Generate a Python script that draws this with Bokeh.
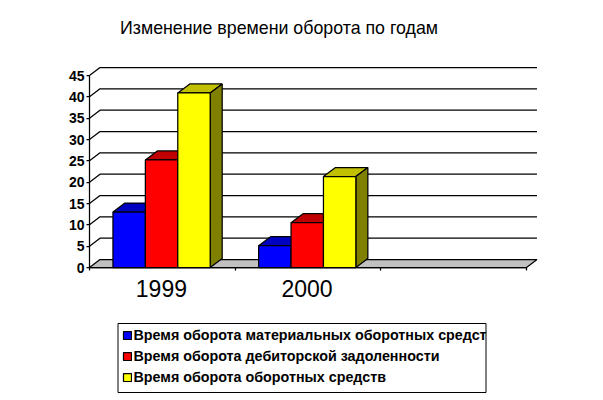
from bokeh.plotting import figure
from bokeh.embed import file_html
from bokeh.resources import INLINE
from bokeh.models import (Range1d, FixedTicker, Legend, LegendItem, Label, BoxAnnotation)

TITLE = "Изменение времени оборота по годам"
YEARS = ["1999", "2000"]
SERIES = ["Время оборота материальных оборотных средст",
          "Время оборота дебиторской задоленности",
          "Время оборота оборотных средств"]
MATERIAL = [13.0, 5.1]
RECEIVABLE = [25.2, 10.5]
TOTAL = [40.9, 21.3]
VALUES = [MATERIAL, RECEIVABLE, TOTAL]
FRONT = ["#0000ff", "#ff0000", "#ffff00"]
TOP = ["#0000c0", "#c00000", "#c0c000"]
SIDE = ["#000080", "#800000", "#808000"]
YTICKS = [0, 5, 10, 15, 20, 25, 30, 35, 40, 45]

PX_PER_UNIT_Y = 192 / 45
PX_PER_SLOT = 145.67
LEFT, FLOOR = 89, 267
W, H = 595, 394

wall_dx, wall_dy = 10.5 / PX_PER_SLOT, 8 / PX_PER_UNIT_Y
bar_dx, bar_dy = 12 / PX_PER_SLOT, 9 / PX_PER_UNIT_Y
bar_w = 0.2225
margin = 0.161
nslots = 3
LW = 1.25

p = figure(width=W, height=H, output_backend="svg", toolbar_location=None,
           x_range=Range1d(-LEFT / PX_PER_SLOT, (W - LEFT) / PX_PER_SLOT),
           y_range=Range1d(-(H - FLOOR) / PX_PER_UNIT_Y, FLOOR / PX_PER_UNIT_Y),
           min_border=0)
p.xgrid.visible = False
p.ygrid.visible = False
p.outline_line_color = None

# floor
p.patch([0, nslots, nslots + wall_dx, wall_dx], [0, 0, wall_dy, wall_dy],
        fill_color="#c0c0c0", line_color="black", line_width=LW)
# gridlines on wall with diagonal links to the axis
for t in YTICKS[1:]:
    p.line([0, wall_dx, nslots + wall_dx], [t, t + wall_dy, t + wall_dy],
           line_color="black", line_width=LW)

items = []
for s, vals in enumerate(VALUES):
    lefts = [i + margin + s * bar_w for i in range(len(vals))]
    rights = [l + bar_w for l in lefts]
    for l, r, v in zip(lefts, rights, vals):
        p.patch([l, r, r + bar_dx, l + bar_dx], [v, v, v + bar_dy, v + bar_dy],
                fill_color=TOP[s], line_color="black", line_width=LW)
        p.patch([r, r + bar_dx, r + bar_dx, r], [0, bar_dy, v + bar_dy, v],
                fill_color=SIDE[s], line_color="black", line_width=LW)
    front = p.quad(left=lefts, right=rights, bottom=0, top=vals,
                   fill_color=FRONT[s], line_color="black", line_width=LW)
    items.append(LegendItem(label=SERIES[s], renderers=[front], index=0))

ya = p.yaxis[0]
ya.fixed_location = 0
ya.ticker = FixedTicker(ticks=YTICKS)
ya.bounds = (0, 45)
ya.major_tick_in = 0
ya.major_tick_out = 3
ya.minor_tick_out = 0
ya.minor_tick_in = 0
ya.axis_line_color = "black"
ya.axis_line_width = LW
ya.major_tick_line_width = LW
ya.major_label_text_font = "Liberation Sans"
ya.major_label_text_font_size = "14px"
ya.major_label_text_font_style = "bold"
ya.major_label_text_color = "black"
ya.major_label_standoff = 2

xticks = [i + 0.4935 for i in range(nslots)]
xa = p.xaxis[0]
xa.fixed_location = 0
xa.ticker = FixedTicker(ticks=xticks, minor_ticks=list(range(nslots + 1)))
xa.major_label_overrides = {xticks[0]: YEARS[0], xticks[1]: YEARS[1], xticks[2]: ""}
xa.bounds = (0, nslots)
xa.major_tick_in = 0
xa.major_tick_out = 0
xa.minor_tick_in = 0
xa.minor_tick_out = 3
xa.minor_tick_line_color = "black"
xa.minor_tick_line_width = LW
xa.axis_line_color = "black"
xa.axis_line_width = LW
xa.major_label_text_font = "Liberation Sans"
xa.major_label_text_font_size = "23px"
xa.major_label_text_color = "black"
xa.major_label_standoff = 9

p.add_layout(BoxAnnotation(left=117.5, right=485.5, bottom=H - 392, top=H - 323,
                           left_units="screen", right_units="screen",
                           bottom_units="screen", top_units="screen",
                           fill_alpha=0, line_color="black", line_width=1, line_alpha=1))

legend = Legend(items=items, location=(118.5, 6.5), orientation="vertical",
                border_line_alpha=0, background_fill_alpha=0,
                padding=3, margin=0, spacing=5,
                glyph_width=10, glyph_height=10, label_standoff=2,
                label_text_font="Liberation Sans", label_text_font_size="14.3px",
                label_text_font_style="bold", label_text_color="black",
                label_height=14, label_width=100)
p.add_layout(legend, "center")

p.add_layout(Label(x=119.5, y=H - 27, x_units="screen", y_units="screen",
                   text=TITLE, text_font="Liberation Sans", text_font_size="17.8px",
                   text_color="black", text_baseline="middle", text_align="left"))

open("out.html", "w").write(file_html(p, INLINE))
